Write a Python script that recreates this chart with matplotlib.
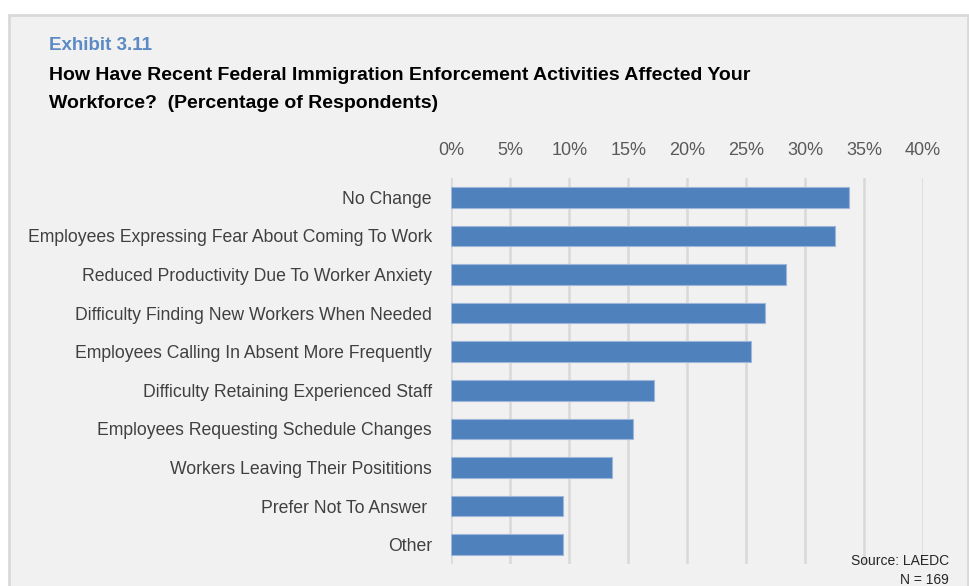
import matplotlib.pyplot as plt
from matplotlib.patches import Rectangle

plt.rcParams['font.family'] = ['Liberation Sans Narrow', 'Liberation Sans', 'DejaVu Sans']

categories = [
    'No Change',
    'Employees Expressing Fear About Coming To Work',
    'Reduced Productivity Due To Worker Anxiety',
    'Difficulty Finding New Workers When Needed',
    'Employees Calling In Absent More Frequently',
    'Difficulty Retaining Experienced Staff',
    'Employees Requesting Schedule Changes',
    'Workers Leaving Their Posititions',
    'Prefer Not To Answer ',
    'Other',
]
values = [33.7, 32.5, 28.4, 26.6, 25.4, 17.2, 15.4, 13.6, 9.5, 9.5]
ticks = [0, 5, 10, 15, 20, 25, 30, 35, 40]
tick_labels = ['0%', '5%', '10%', '15%', '20%', '25%', '30%', '35%', '40%']

W, H = 969, 586
fig = plt.figure(figsize=(W / 100, H / 100), dpi=100)
fig.patch.set_facecolor('white')

# grey panel behind the exhibit
fig.patches.append(Rectangle((9 / W, -0.05), (968 - 9) / W, 1.05 - 15 / H,
                             transform=fig.transFigure, facecolor='#f1f1f1',
                             edgecolor='#d9d9d9', lw=2, zorder=-5))

fig.text(49 / W, 1 - 46 / H, 'Exhibit 3.11', color='#5b8ac5', fontsize=13.5,
         fontweight='bold', va='center', ha='left')
fig.text(49 / W, 1 - 76 / H,
         'How Have Recent Federal Immigration Enforcement Activities Affected Your',
         color='black', fontsize=14, fontweight='bold', va='center', ha='left')
fig.text(49 / W, 1 - 104 / H, 'Workforce?  (Percentage of Respondents)',
         color='black', fontsize=14, fontweight='bold', va='center', ha='left')

ax = fig.add_axes([451.3 / W, 1 - 564 / H, (923 - 451.3) / W, (564 - 178) / H])
ax.set_facecolor('none')
ax.set_zorder(2)

y = range(len(categories))
ax.barh(y, values, height=0.53, color='#4f81bd', edgecolor='#9db6d9', lw=0.8, zorder=3)

ax.set_xlim(0, 40)
ax.set_ylim(len(categories) - 0.5, -0.5)
ax.set_xticks(ticks)
ax.set_xticklabels(tick_labels)
ax.set_yticks(list(y))
ax.set_yticklabels(categories)
ax.xaxis.tick_top()
ax.tick_params(axis='x', length=0, pad=14, labelsize=13, labelcolor='#595959')
ax.tick_params(axis='y', length=0, pad=14, labelsize=12.7, labelcolor='#404040')
ax.grid(axis='x', color='#d9d9d9', lw=1.8, zorder=0)
ax.set_axisbelow(True)
for s in ax.spines.values():
    s.set_visible(False)

fig.text(949 / W, 1 - 561 / H, 'Source: LAEDC', fontsize=10, color='#262626',
         ha='right', va='center')
fig.text(949 / W, 1 - 580 / H, 'N = 169', fontsize=10, color='#262626',
         ha='right', va='center')

fig.savefig('out.png', dpi=100)
